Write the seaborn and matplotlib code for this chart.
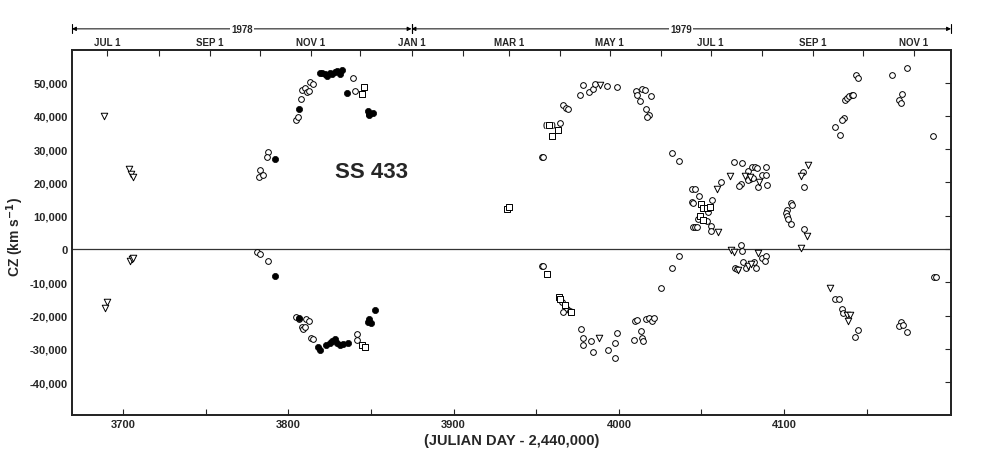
import matplotlib
matplotlib.use('Agg')
import pandas as pd
import seaborn as sns
import matplotlib.pyplot as plt

# SS 433 radial velocities (day = JD - 2,440,000, cz in km/s)
circ_day = [3781.9, 3782.9, 3784.9, 3787.9, 3787.3, 3804.7, 3806.0, 3807.5, 3808.5, 3810.1,
            3811.1, 3812.7, 3813.1, 3814.8, 3839.3, 3840.5,
            3781.2, 3782.9, 3787.9, 3804.7, 3806.1, 3810.7, 3812.7, 3808.1, 3809.1, 3810.1,
            3813.7, 3815.1, 3841.7, 3841.3,
            3953.3, 3954.3, 3964.4, 3966.4, 3967.8, 3969.4, 3976.5, 3978.1, 3981.9, 3984.5,
            3985.5, 3993.0, 3998.7, 4010.3, 4011.1, 4014.2, 4015.8, 4012.8, 4019.6, 4016.2,
            4018.4, 4017.1, 4032.4, 4036.6,
            4044.5, 4046.0, 4044.0, 4045.0, 4048.6, 4056.5, 4054.0, 4048.0, 4053.1, 4055.5,
            4044.6, 4046.0, 4047.4, 4055.5,
            4062.1, 4069.8, 4074.8, 4078.2, 4080.3, 4082.2, 4083.7, 4088.8, 4086.9, 4088.9,
            4089.4, 4079.3, 4080.9, 4078.2, 4073.8, 4072.8, 4084.3,
            4104.1, 4104.9, 4101.9, 4101.1, 4101.9, 4102.5, 4104.1, 4111.5, 4112.0, 4112.1,
            4131.1, 4133.8, 4136.4, 4135.2, 4136.8, 4138.2, 4139.4, 4140.8, 4141.8, 4143.4,
            4144.8, 4165.4, 4174.5, 4171.4, 4169.6, 4170.6, 4190.2,
            3953.3, 3954.3, 3965.4, 3968.4, 3970.4, 3966.4, 3977.1, 3978.1, 3978.5, 3983.1,
            3984.5, 3993.6, 3997.4, 3997.4, 3998.7, 4009.3, 4013.2, 4014.2, 4014.7, 4009.7,
            4011.1, 4016.4, 4018.4, 4019.8, 4021.2, 4025.6, 4031.9, 4036.5,
            4073.8, 4074.6, 4086.9, 4088.9, 4088.4, 4075.2, 4081.6, 4076.8, 4082.8, 4070.2,
            4071.2,
            4190.8, 4191.8, 4130.7, 4133.3, 4134.8, 4135.7, 4144.8, 4143.2, 4170.7, 4169.6,
            4172.0, 4174.4]
circ_cz = [21700, 23600, 22300, 29100, 27600, 38700, 39700, 45100, 47700, 48400,
           47200, 47400, 50200, 49700, 51500, 47400,
           -800, -1500, -3500, -20300, -21100, -20900, -21500, -23300, -24100, -23300,
           -26800, -27100, -25400, -27400,
           27600, 27600, 37900, 43200, 42500, 42000, 46400, 49400, 47200, 48200,
           49700, 49000, 48800, 47500, 46200, 48100, 47900, 44600, 45900, 42000,
           40400, 39700, 28800, 26400,
           18100, 18100, 14000, 13800, 15800, 14700, 11200, 9000, 8500, 7000,
           6700, 6700, 6700, 5500,
           20100, 26100, 25800, 23400, 24600, 24600, 24300, 24600, 22300, 22300,
           19300, 21100, 21300, 20600, 19600, 18900, 18700,
           13800, 13200, 11800, 10700, 9800, 9000, 7500, 23100, 18600, 6000,
           36700, 34300, 39500, 38700, 44700, 45400, 45900, 46200, 46400, 52400,
           51500, 52400, 54400, 46700, 44700, 44000, 34100,
           -5000, -5000, -15900, -18100, -18600, -18900, -23900, -26800, -28800, -27700,
           -31100, -30400, -32700, -28400, -25100, -27400, -24600, -26900, -27700, -21600,
           -21400, -21100, -20800, -21600, -20600, -11600, -5700, -2000,
           1200, -500, -2800, -2200, -3500, -3800, -4000, -5700, -5700, -5700,
           -6000,
           -8500, -8500, -15100, -15100, -18100, -19100, -24400, -26600, -21900, -23100,
           -22900, -24900]

tri_day = [3688.5, 3703.6, 3704.8, 3706.0, 3704.2, 3705.4, 3706.0, 3690.3, 3689.1,
           3988.6, 3988.2, 4059.6, 4060.0, 4067.1, 4076.3, 4079.3, 4084.9,
           4067.7, 4069.8, 4083.9, 4078.2, 4079.9, 4071.9,
           4114.5, 4110.2, 4114.0, 4110.2, 4127.7, 4137.8, 4139.8, 4138.8]
tri_cz = [40000, 24000, 22500, 21700, -3600, -3000, -2700, -15800, -17600,
          49400, -26800, 18100, 5000, 21900, 21900, 21600, 20100,
          -300, -1000, -1300, -5000, -4500, -6300,
          25100, 21900, 4000, 300, -11800, -19900, -19900, -21600]

sq_day = [3932.5, 3933.7, 3958.0, 3963.0, 3959.7,
          4049.6, 4051.2, 4053.2, 4054.9, 4049.0, 4051.0,
          3844.4, 3846.0, 3844.4, 3846.4,
          3956.3, 3963.8, 3964.4, 3967.4, 3970.8]
sq_cz = [12000, 12600, 37400, 35900, 34100,
         13500, 12300, 12300, 12500, 10000, 8800,
         46700, 48600, -28900, -29600,
         -7500, -14500, -15100, -16900, -18800]

fill_day = [3792.0, 3806.3, 3819.0, 3820.5, 3822.0, 3823.5, 3825.0, 3826.5, 3828.0, 3829.5,
            3831.0, 3832.5, 3835.6, 3848.0, 3849.0, 3851.0, 3848.5,
            3792.0, 3806.5, 3818.1, 3819.2, 3823.0, 3825.0, 3826.5, 3828.3, 3829.5, 3831.0,
            3833.0, 3835.8, 3852.5, 3848.0, 3849.0, 3850.0]
fill_cz = [27100, 42000, 52900, 52800, 52600, 52100, 52800, 52500, 53200, 53400,
           52700, 53800, 47000, 41500, 40200, 41000, 40700,
           -8000, -20600, -29600, -30300, -28900, -28300, -27600, -27100, -28200, -28900,
           -28500, -28400, -18400, -21900, -21100, -22300]

# top axis: first of each month, labels every second month
month_day = [3690.5, 3721.5, 3752.5, 3782.5, 3813.5, 3843.5, 3874.5, 3905.5, 3933.5,
             3964.5, 3994.5, 4025.5, 4055.5, 4086.5, 4117.5, 4147.5, 4178.5]
month_lab = ['JUL 1', '', 'SEP 1', '', 'NOV 1', '', 'JAN 1', '', 'MAR 1',
             '', 'MAY 1', '', 'JUL 1', '', 'SEP 1', '', 'NOV 1']

y_ticks = [-40000, -30000, -20000, -10000, 0, 10000, 20000, 30000, 40000, 50000]
x_ticks = [3700, 3750, 3800, 3850, 3900, 3950, 4000, 4050, 4100, 4150]

sns.set_style('white')
plt.rcParams['font.family'] = ['Liberation Sans', 'DejaVu Sans']
plt.rcParams['font.weight'] = 'bold'

fig = plt.figure(figsize=(9.9, 4.52), dpi=100)
ax = fig.add_axes([0.0727, 0.0796, 0.8879, 0.8075])

circ = pd.DataFrame({'day': circ_day, 'cz': circ_cz})
tri = pd.DataFrame({'day': tri_day, 'cz': tri_cz})
sq = pd.DataFrame({'day': sq_day, 'cz': sq_cz})
fill = pd.DataFrame({'day': fill_day, 'cz': fill_cz})

sns.scatterplot(data=circ, x='day', y='cz', marker='o', s=17, facecolor='white',
                edgecolor='black', linewidth=0.7, ax=ax, zorder=3)
sns.scatterplot(data=tri, x='day', y='cz', marker='v', s=22, facecolor='white',
                edgecolor='black', linewidth=0.7, ax=ax, zorder=3)
sns.scatterplot(data=sq, x='day', y='cz', marker='s', s=14, facecolor='white',
                edgecolor='black', linewidth=0.7, ax=ax, zorder=3)
sns.scatterplot(data=fill, x='day', y='cz', marker='o', s=20, color='black',
                edgecolor='black', linewidth=0.5, ax=ax, zorder=4)
ax.text(3958.0, 37400, '(   )', ha='center', va='center', fontsize=6, fontweight='bold')

ax.axhline(0, color='#333333', lw=0.9, zorder=1)

ax.set_xlim(3669, 4201)
ax.set_ylim(-49900, 59800)
ax.set_xticks(x_ticks)
ax.set_xticklabels([str(t) if t % 100 == 0 else '' for t in x_ticks])
ax.set_yticks(y_ticks)
ax.set_yticklabels(['{:,}'.format(t) for t in y_ticks])
ax.tick_params(axis='both', direction='in', length=4, width=0.8, labelsize=8,
               right=True, pad=3)
for lab in ax.get_xticklabels() + ax.get_yticklabels():
    lab.set_fontweight('bold')
for sp in ax.spines.values():
    sp.set_linewidth(1.2)
    sp.set_color('black')

ax.set_xlabel('(JULIAN DAY - 2,440,000)', fontsize=10.5, fontweight='bold', labelpad=3)
ax.set_ylabel('CZ (km s$^{\\mathbf{-1}}$)', fontsize=10, fontweight='bold')
ax.yaxis.set_label_coords(-0.052, 0.49)

ax.text(3850, 23150, 'SS 433', ha='center', va='center', fontsize=16, fontweight='bold')

# month ticks along the top
top = ax.twiny()
top.set_xlim(ax.get_xlim())
top.set_xticks(month_day)
top.set_xticklabels(month_lab, fontsize=7, fontweight='bold')
top.tick_params(axis='x', direction='in', length=4, width=0.8, pad=2)
for sp in top.spines.values():
    sp.set_linewidth(1.2)

# year brackets above the months
tr = ax.get_xaxis_transform()
yb = 1.058
for x0, x1, lab in [(3669, 3874.5, '1978'), (3874.5, 4201, '1979')]:
    mid = (x0 + x1) / 2
    for xe in (x0, x1):
        ax.annotate('', xy=(xe, yb), xytext=(mid, yb), xycoords=tr, textcoords=tr,
                    arrowprops=dict(arrowstyle='-|>', lw=0.7, color='black',
                                    mutation_scale=6, shrinkA=0, shrinkB=0),
                    annotation_clip=False)
        ax.plot([xe, xe], [yb - 0.012, yb + 0.012], transform=tr, color='black',
                lw=0.8, clip_on=False)
    ax.text(mid, yb, lab, transform=tr, ha='center', va='center', fontsize=7,
            fontweight='bold', bbox=dict(facecolor='white', edgecolor='none', pad=0.8))

plt.savefig('out.png', dpi=100)
